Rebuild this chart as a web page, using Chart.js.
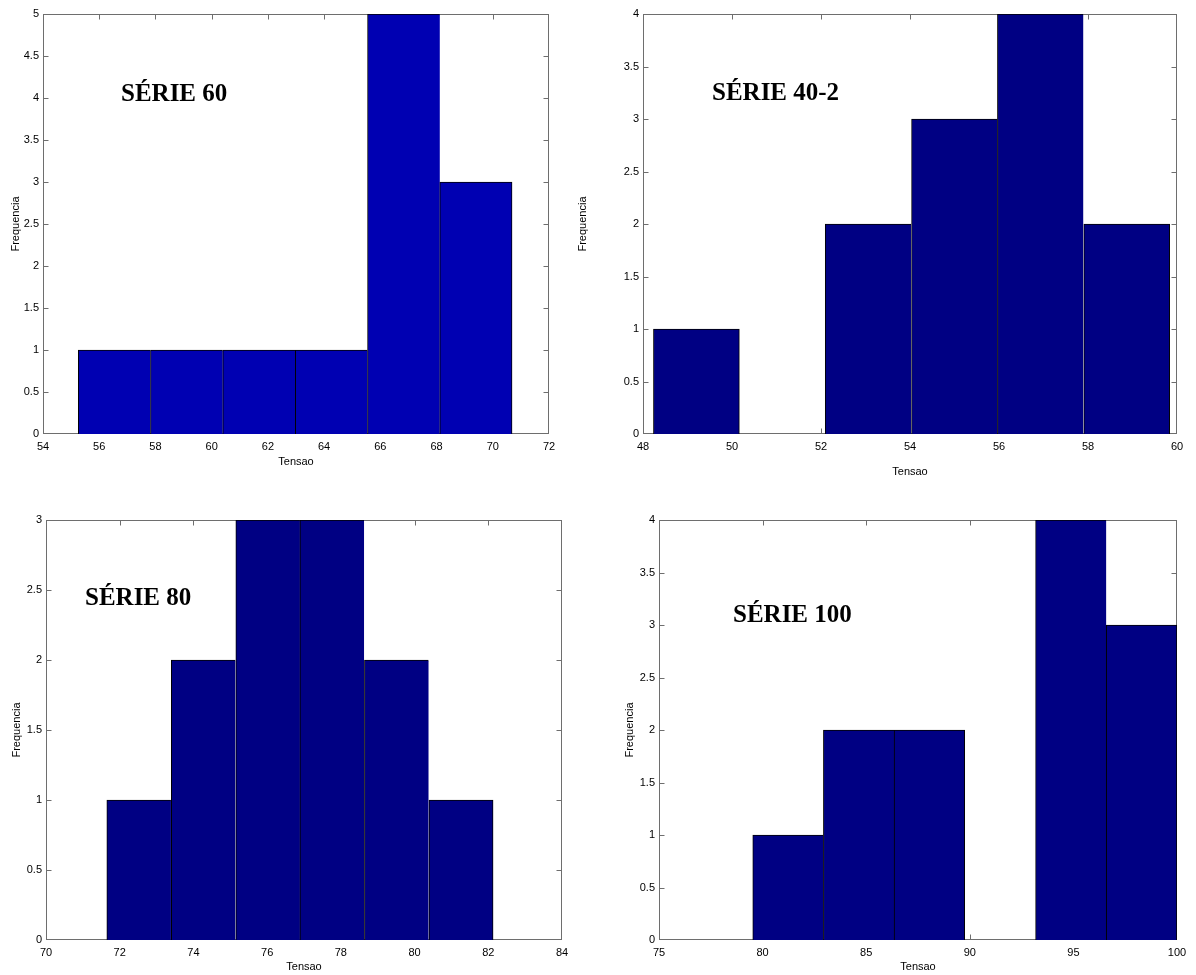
<!DOCTYPE html>
<html>
<head>
<meta charset="utf-8">
<title>Histogramas de tensão</title>
<script src="https://cdn.jsdelivr.net/npm/chart.js@4.4.1/dist/chart.umd.min.js"></script>
<style>
  html, body { margin: 0; padding: 0; background: #fff; }
  body { width: 1196px; height: 975px; position: relative; overflow: hidden; }
  .panel { position: absolute; }
  .panel canvas { display: block; }
  .tag {
    position: absolute;
    font: bold 25px "Liberation Serif", "Times New Roman", serif;
    line-height: 25px;
    color: #000;
    white-space: nowrap;
  }
</style>
</head>
<body>
<div class="panel" style="left:0px;top:0px;width:560px;height:470px"><canvas id="c60"></canvas></div>
<div class="panel" style="left:570px;top:0px;width:626px;height:490px"><canvas id="c40"></canvas></div>
<div class="panel" style="left:0px;top:500px;width:580px;height:475px"><canvas id="c80"></canvas></div>
<div class="panel" style="left:600px;top:500px;width:596px;height:475px"><canvas id="c100"></canvas></div>

<div class="tag" style="left:121px;top:80px">SÉRIE 60</div>
<div class="tag" style="left:712px;top:79px">SÉRIE 40-2</div>
<div class="tag" style="left:85px;top:584px">SÉRIE 80</div>
<div class="tag" style="left:733px;top:601px">SÉRIE 100</div>

<script>
// ---- Série 60 ----
const serie60Bins   = [56.54, 59.11, 61.68, 64.26, 66.83, 69.40];
const serie60Counts = [1, 1, 1, 1, 5, 3];
const serie60XTicks = [54, 56, 58, 60, 62, 64, 66, 68, 70, 72];
const serie60YTicks = [0, 0.5, 1, 1.5, 2, 2.5, 3, 3.5, 4, 4.5, 5];

// ---- Série 40-2 ----
const serie40Bins   = [49.20, 51.13, 53.06, 55.00, 56.93, 58.87];
const serie40Counts = [1, 0, 2, 3, 4, 2];
const serie40XTicks = [48, 50, 52, 54, 56, 58, 60];
const serie40YTicks = [0, 0.5, 1, 1.5, 2, 2.5, 3, 3.5, 4];

// ---- Série 80 ----
const serie80Bins   = [72.52, 74.27, 76.02, 77.76, 79.51, 81.26];
const serie80Counts = [1, 2, 3, 3, 2, 1];
const serie80XTicks = [70, 72, 74, 76, 78, 80, 82, 84];
const serie80YTicks = [0, 0.5, 1, 1.5, 2, 2.5, 3];

// ---- Série 100 ----
const serie100Bins   = [81.23, 84.64, 88.05, 91.47, 94.88, 98.29];
const serie100Counts = [1, 2, 2, 0, 4, 3];
const serie100XTicks = [75, 80, 85, 90, 95, 100];
const serie100YTicks = [0, 0.5, 1, 1.5, 2, 2.5, 3, 3.5, 4];

const AXIS_FONT = { family: '"Liberation Sans", Arial, Helvetica, sans-serif', size: 11 };
const FRAME_COLOR = '#6e6e6e';

// Box around the plot area with short inward ticks on all four sides
const boxAxes = {
  id: 'boxAxes',
  beforeDatasetsDraw(chart) {
    const { ctx, chartArea: a, scales } = chart;
    const L = Math.round(a.left) + 0.5, R = Math.round(a.right) - 0.5;
    const T = Math.round(a.top) + 0.5, B = Math.round(a.bottom) - 0.5;
    const clamp = (v, lo, hi) => Math.min(Math.max(v, lo), hi);
    const len = 5;
    ctx.save();
    ctx.strokeStyle = FRAME_COLOR;
    ctx.lineWidth = 1;
    ctx.beginPath();
    scales.x.ticks.forEach(t => {
      const px = clamp(Math.round(scales.x.getPixelForValue(t.value)) + 0.5, L, R);
      ctx.moveTo(px, B); ctx.lineTo(px, B - len);
      ctx.moveTo(px, T); ctx.lineTo(px, T + len);
    });
    scales.y.ticks.forEach(t => {
      const py = clamp(Math.round(scales.y.getPixelForValue(t.value)) + 0.5, T, B);
      ctx.moveTo(L, py); ctx.lineTo(L + len, py);
      ctx.moveTo(R, py); ctx.lineTo(R - len, py);
    });
    ctx.stroke();
    ctx.strokeRect(L, T, R - L, B - T);
    ctx.restore();
  }
};

function histogram(canvasId, bins, counts, xTicks, yTicks, color, box) {
  const xMin = xTicks[0], xMax = xTicks[xTicks.length - 1];
  const yMax = yTicks[yTicks.length - 1];
  return new Chart(document.getElementById(canvasId), {
    type: 'bar',
    data: {
      datasets: [{
        data: bins.map((b, i) => ({ x: b, y: counts[i] })),
        xAxisID: 'xb',
        yAxisID: 'y',
        backgroundColor: color,
        borderColor: '#000',
        borderSkipped: false,
        borderWidth: (c) => {
          const i = c.dataIndex;
          const closeRight = i === counts.length - 1 || counts[i + 1] === 0;
          return { top: 1, left: 1, bottom: 0, right: closeRight ? 1 : 0 };
        },
        barPercentage: 1,
        categoryPercentage: 1,
        grouped: false
      }]
    },
    options: {
      responsive: true,
      maintainAspectRatio: false,
      animation: false,
      events: [],
      layout: { padding: { left: 0, top: box.padTop, right: box.padRight, bottom: 0 } },
      plugins: { legend: { display: false }, tooltip: { enabled: false } },
      scales: {
        // bars sit on this hidden axis so their width follows the bin spacing
        xb: {
          type: 'linear', display: false, offset: false, min: xMin, max: xMax,
          afterBuildTicks: s => { s.ticks = [{ value: xMin }, { value: xMax }]; }
        },
        x: {
          type: 'linear', position: 'bottom', offset: false, min: xMin, max: xMax,
          afterBuildTicks: s => { s.ticks = xTicks.map(v => ({ value: v })); },
          grid: { display: false, drawTicks: false, offset: false },
          border: { display: false },
          ticks: { color: '#000', font: AXIS_FONT, padding: box.xTickPad, maxRotation: 0, autoSkip: false,
                   callback: v => String(v) },
          title: { display: true, text: 'Tensao', color: '#000', font: AXIS_FONT,
                   padding: { top: 0, bottom: box.xTitlePad } },
          afterFit: s => { s.height = box.xH; s.paddingLeft = 0; s.paddingRight = 0; }
        },
        y: {
          type: 'linear', position: 'left', offset: false, min: 0, max: yMax,
          afterBuildTicks: s => { s.ticks = yTicks.map(v => ({ value: v })); },
          grid: { display: false, drawTicks: false },
          border: { display: false },
          ticks: { color: '#000', font: AXIS_FONT, padding: 4, autoSkip: false,
                   callback: v => String(v) },
          title: { display: true, text: 'Frequencia', color: '#000', font: AXIS_FONT,
                   padding: { top: box.yTitlePad, bottom: 0 } },
          afterFit: s => { s.width = box.yW; s.paddingTop = 0; s.paddingBottom = 0; }
        }
      }
    },
    plugins: [boxAxes]
  });
}

histogram('c60', serie60Bins, serie60Counts, serie60XTicks, serie60YTicks, '#0000b2',
  { padTop: 14, padRight: 11, yW: 43, xH: 36, xTickPad: 6, xTitlePad: 1, yTitlePad: 9 });
histogram('c40', serie40Bins, serie40Counts, serie40XTicks, serie40YTicks, '#000083',
  { padTop: 14, padRight: 19, yW: 73, xH: 56, xTickPad: 6, xTitlePad: 11, yTitlePad: 6 });
histogram('c80', serie80Bins, serie80Counts, serie80XTicks, serie80YTicks, '#000083',
  { padTop: 20, padRight: 18, yW: 46, xH: 35, xTickPad: 6, xTitlePad: 1, yTitlePad: 10 });
histogram('c100', serie100Bins, serie100Counts, serie100XTicks, serie100YTicks, '#000083',
  { padTop: 20, padRight: 19, yW: 59, xH: 35, xTickPad: 6, xTitlePad: 1, yTitlePad: 23 });
</script>
</body>
</html>
